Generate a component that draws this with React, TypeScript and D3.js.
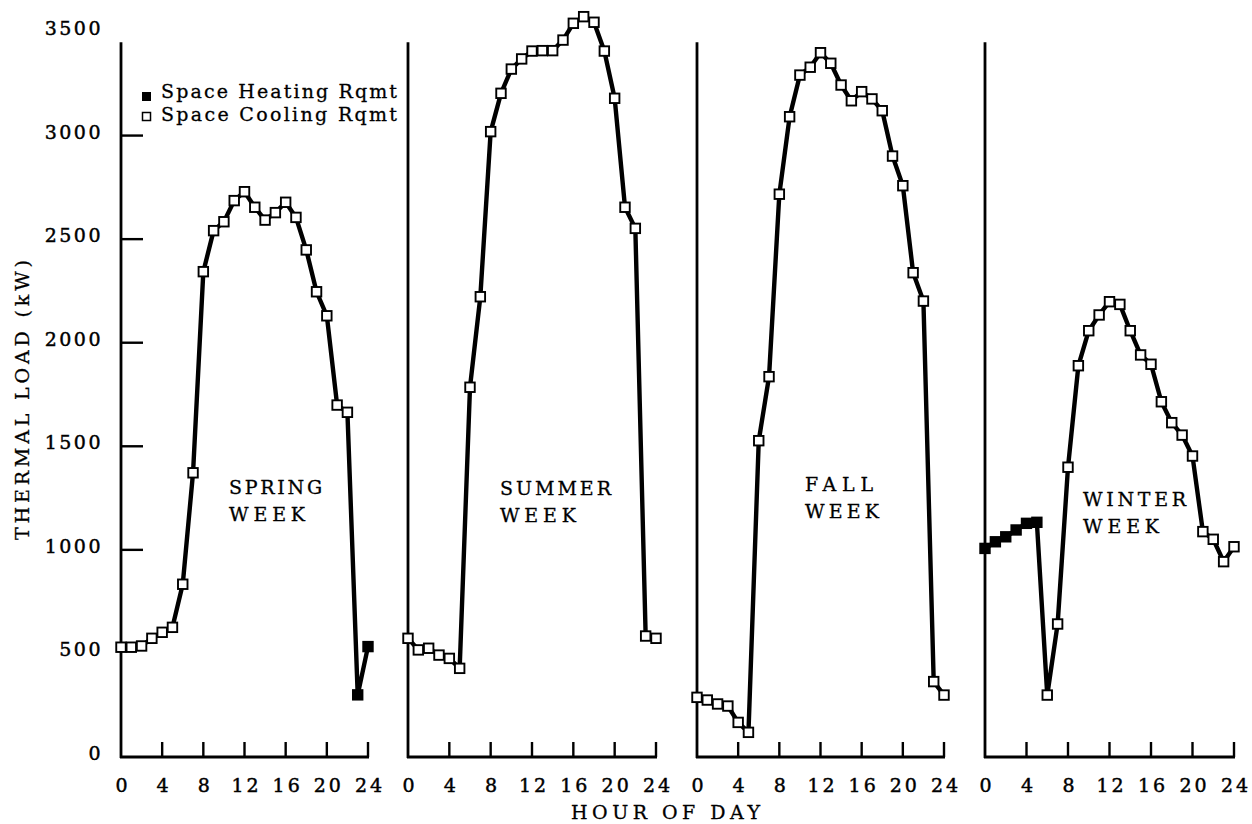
import React from "react";
import * as d3 from "d3";

// Hour of day (0–24) shared by every week
const HOURS = [0, 1, 2, 3, 4, 5, 6, 7, 8, 9, 10, 11, 12, 13, 14, 15, 16, 17, 18, 19, 20, 21, 22, 23, 24];

// Thermal load (kW) per hour for each representative week
const springLoad = [530, 530, 536, 573, 602, 626, 834, 1372, 2343, 2541, 2584, 2686, 2729, 2654, 2592, 2628, 2678, 2605, 2448, 2246, 2130, 1699, 1664, 300, 533];
const summerLoad = [573, 517, 525, 492, 476, 428, 1785, 2222, 3019, 3204, 3321, 3370, 3408, 3410, 3410, 3461, 3542, 3574, 3547, 3408, 3180, 2654, 2552, 584, 573];
const fallLoad = [288, 275, 256, 246, 167, 119, 1527, 1836, 2717, 3091, 3292, 3330, 3400, 3349, 3244, 3168, 3212, 3177, 3120, 2901, 2758, 2338, 2201, 364, 299];
const winterLoad = [1007, 1039, 1063, 1096, 1128, 1133, 299, 642, 1399, 1889, 2058, 2134, 2198, 2185, 2058, 1941, 1896, 1715, 1614, 1554, 1453, 1088, 1051, 943, 1015];

// Hours in which the load is a space heating requirement (all others are cooling)
const springHeatingHours = [23, 24];
const summerHeatingHours: number[] = [];
const fallHeatingHours: number[] = [];
const winterHeatingHours = [0, 1, 2, 3, 4, 5];

const seasonNames = [["SPRING", "WEEK"], ["SUMMER", "WEEK"], ["FALL", "WEEK"], ["WINTER", "WEEK"]];

const yTicks = [0, 500, 1000, 1500, 2000, 2500, 3000, 3500];
const yGridTicks = [1000, 1500, 2000, 2500, 3000];
const xTicks = [0, 4, 8, 12, 16, 20, 24];

const legendLabels = ["Space Heating Rqmt", "Space Cooling Rqmt"];

// ---- layout ----
const W = 1252;
const H = 824;
const FONT = "'DejaVu Serif', 'Liberation Serif', serif";
const Y_BASE = 757;
const Y_TOP = 32;
const AXIS_TOP_VALUE = 3450;
const TEXT_STROKE = 0.45;

const panelRanges: [number, number][] = [
  [121, 368],
  [408, 656],
  [697, 944],
  [985, 1234],
];

// where each season caption sits, in hour / kW units of its panel
const captionAnchors = [
  { hour: 10.5, value: 1270, widths: [93, 76] },
  { hour: 8.9, value: 1265, widths: [111, 76] },
  { hour: 10.5, value: 1284, widths: [68, 74] },
  { hour: 9.45, value: 1212, widths: [103, 76] },
];

const seasons = [
  { load: springLoad, heating: springHeatingHours },
  { load: summerLoad, heating: summerHeatingHours },
  { load: fallLoad, heating: fallHeatingHours },
  { load: winterLoad, heating: winterHeatingHours },
];

const y = d3.scaleLinear().domain([0, 3500]).range([Y_BASE, Y_TOP]);

const MARK = 9.5;

const textProps = {
  fontFamily: FONT,
  fontSize: 19,
  fill: "#000",
  stroke: "#000",
  strokeWidth: TEXT_STROKE,
};

function Panel({ index }: { index: number }) {
  const [x0, x1] = panelRanges[index];
  const x = d3.scaleLinear().domain([0, 24]).range([x0, x1]);
  const { load, heating } = seasons[index];
  const pts = HOURS.map((h, i) => ({ h, v: load[i], heat: heating.includes(h) }));
  const line = d3
    .line<{ h: number; v: number }>()
    .x((d) => x(d.h))
    .y((d) => y(d.v));
  const cap = captionAnchors[index];
  const cx = x(cap.hour);
  const cy = y(cap.value);
  return (
    <g>
      {/* axes */}
      <line x1={x0} x2={x0} y1={y(0) + 1} y2={y(AXIS_TOP_VALUE)} stroke="#000" strokeWidth={2.8} />
      <line x1={x0 - 1} x2={x1 + 1} y1={y(0)} y2={y(0)} stroke="#000" strokeWidth={2.8} />
      {xTicks
        .filter((t) => t > 0)
        .map((t) => (
          <line key={t} x1={x(t)} x2={x(t)} y1={y(0)} y2={y(0) - 15} stroke="#000" strokeWidth={2.4} />
        ))}
      {xTicks.map((t) => (
        <text key={"l" + t} x={x(t) + 2} y={792} textAnchor="middle" letterSpacing={3} {...textProps}>
          {t}
        </text>
      ))}
      {index === 0 &&
        yGridTicks.map((t) => (
          <line key={"g" + t} x1={x0} x2={x0 + 22} y1={y(t)} y2={y(t)} stroke="#000" strokeWidth={2.4} />
        ))}
      {/* load curve */}
      <path d={line(pts) ?? ""} fill="none" stroke="#000" strokeWidth={4.4} strokeLinejoin="round" />
      {pts.map((p) => (
        <rect
          key={p.h}
          x={x(p.h) - MARK / 2}
          y={y(p.v) - MARK / 2}
          width={MARK}
          height={MARK}
          fill={p.heat ? "#000" : "#fff"}
          stroke="#000"
          strokeWidth={1.9}
        />
      ))}
      {/* season caption */}
      {seasonNames[index].map((s, i) => (
        <text
          key={s + i}
          x={cx}
          y={cy + i * 27}
          textLength={cap.widths[i]}
          lengthAdjust="spacing"
          {...textProps}
          strokeWidth={0.3}
        >
          {s}
        </text>
      ))}
    </g>
  );
}

export default function App() {
  return (
    <svg
      width={W}
      height={H}
      viewBox={`0 0 ${W} ${H}`}
      style={{ position: "absolute", left: 0, top: 0, background: "#fff" }}
    >
      <rect width={W} height={H} fill="#fff" />
      {/* y tick labels */}
      {yTicks.map((t) => (
        <text key={t} x={103} y={y(t) + 3} textAnchor="end" letterSpacing={2.5} {...textProps}>
          {t}
        </text>
      ))}
      <text
        transform="translate(29,400) rotate(-90)"
        textAnchor="middle"
        textLength={280}
        lengthAdjust="spacing"
        {...textProps}
        strokeWidth={0.3}
      >
        THERMAL LOAD (kW)
      </text>
      <text x={571} y={819} textLength={189} lengthAdjust="spacing" {...textProps} strokeWidth={0.3}>
        HOUR OF DAY
      </text>
      {panelRanges.map((_, i) => (
        <Panel key={i} index={i} />
      ))}
      {/* legend */}
      <rect x={142} y={92} width={9} height={9} fill="#000" />
      <rect x={142.5} y={112.5} width={8} height={8} fill="#fff" stroke="#000" strokeWidth={1.5} />
      {legendLabels.map((s, i) => (
        <text
          key={s}
          x={161}
          y={98 + i * 23}
          textLength={236}
          lengthAdjust="spacing"
          {...textProps}
          strokeWidth={0.3}
        >
          {s}
        </text>
      ))}
    </svg>
  );
}
